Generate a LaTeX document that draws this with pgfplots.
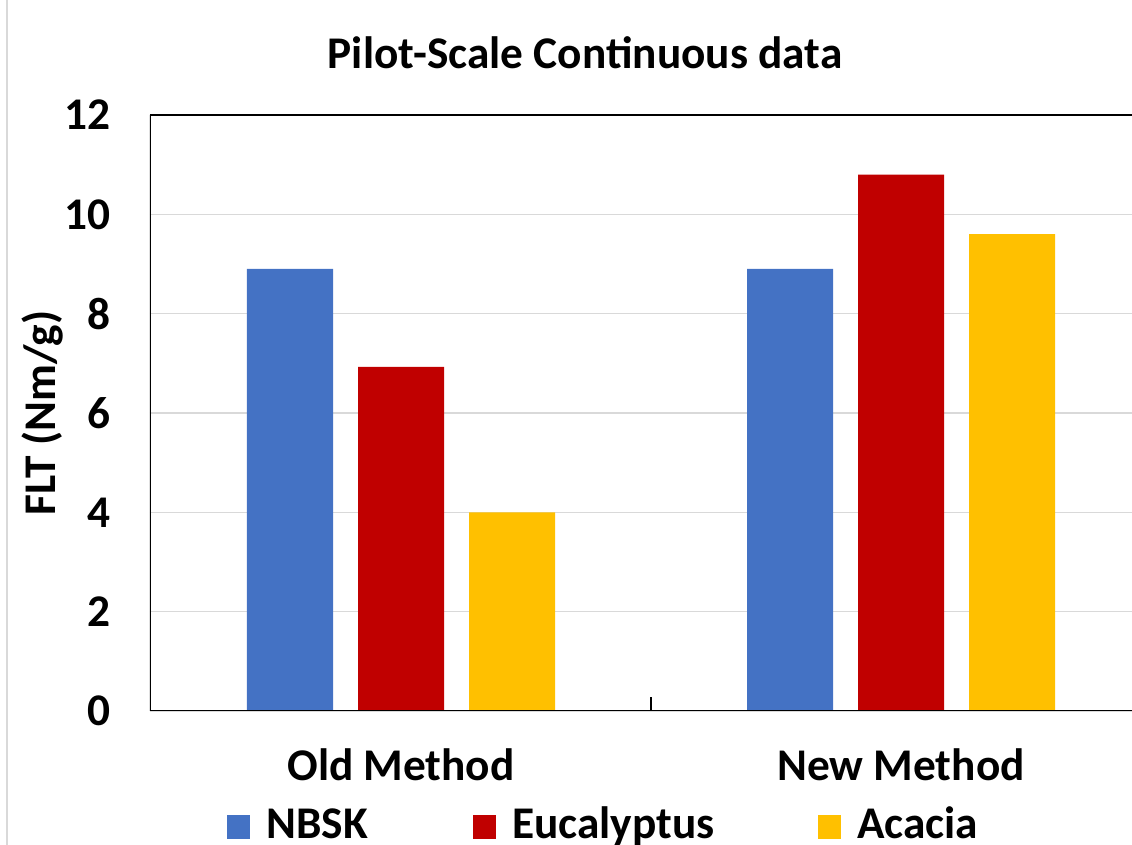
\documentclass[border=0pt]{standalone}
\usepackage{pgfplots}
\pgfplotsset{compat=1.18}
\usepackage{fontspec}
\setmainfont{Carlito}

\definecolor{nbsk}{HTML}{4472C4}
\definecolor{euca}{HTML}{C00000}
\definecolor{acac}{HTML}{FFC000}
\definecolor{gridgray}{HTML}{D9D9D9}

\newcommand{\bigbf}{\fontsize{34}{40}\selectfont\bfseries}

\begin{document}
\begin{tikzpicture}
% page = 1132 x 845 px, 1 px = 0.75pt, plot area lower left at (0,0)
\path[use as bounding box] (-112.5pt,-100.5pt) rectangle (736.5pt,533.25pt);
\draw[gridgray, line width=0.8pt] (-107.25pt,-100.5pt) -- (-107.25pt,533.25pt);
\begin{axis}[
  at={(0pt,0pt)}, anchor=south west,
  scale only axis,
  width=736.5pt, height=447pt,
  ybar=18.75pt, bar width=64.5pt,
  xmin=-0.502, xmax=1.462,
  ymin=0, ymax=12,
  axis line style={draw=none},
  xtick={0,1},
  xticklabels={Old Method, New Method},
  minor xtick={0.5},
  ytick={0,2,4,6,8,10,12},
  tick align=inside,
  xtick pos=left,
  major tick length=0pt,
  minor tick length=10.5pt,
  minor tick style={black, line width=1pt},
  ymajorgrids,
  grid style={gridgray, line width=1pt},
  /pgf/number format/assume math mode=true,
  ticklabel style={font=\bigbf, inner sep=0pt},
  yticklabel style={anchor=east, xshift=-29.25pt},
  xticklabel style={anchor=base, yshift=-52.5pt},
  title={Pilot-Scale Continuous data},
  every axis title shift=0pt,
  title style={font=\bigbf, at={(axis description cs:0.443,1.0772)}, anchor=base, inner sep=0pt},
  ylabel={FLT (Nm/g)},
  ylabel style={font=\bigbf, at={(axis description cs:-0.0967,0.5)}, anchor=base, inner sep=0pt},
  legend columns=3,
  legend style={draw=none, fill=none, inner sep=0pt, font=\bigbf,
    at={(axis description cs:0.0784,-0.1890)}, anchor=west,
    column sep=0pt,
    /tikz/every odd column/.append style={column sep=12pt},
    cells={anchor=base west},
    nodes={inner sep=0pt}},
  legend image code/.code={\path[#1, draw=none] (0pt,0pt) rectangle (17.25pt,18pt);},
]
\addplot[fill=nbsk, draw=none] coordinates {(0,8.9) (1,8.9)};
\addplot[fill=euca, draw=none] coordinates {(0,6.93) (1,10.8)};
\addplot[fill=acac, draw=none] coordinates {(0,4.0) (1,9.6)};
\addlegendentry{\makebox[155.25pt][l]{NBSK}}
\addlegendentry{\makebox[229.5pt][l]{Eucalyptus}}
\addlegendentry{Acacia}
\draw[black, line width=1.2pt] (rel axis cs:0,0) -- (rel axis cs:1,0);
\draw[black, line width=1.2pt] (rel axis cs:0,1) -- (rel axis cs:1,1);
\draw[black, line width=1pt] (rel axis cs:0,0) -- (rel axis cs:0,1);
\end{axis}
\end{tikzpicture}
\end{document}
